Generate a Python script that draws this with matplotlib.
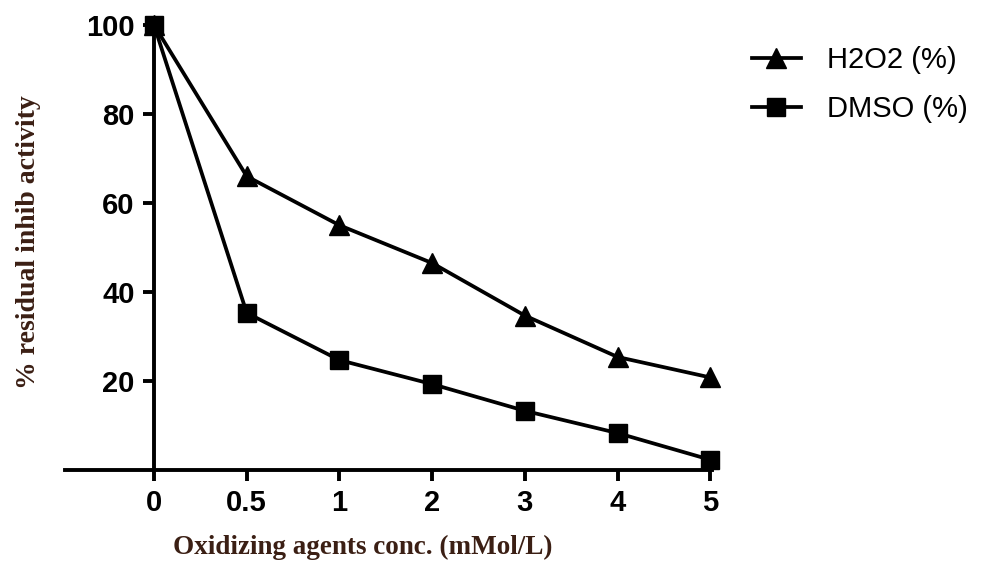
import matplotlib.pyplot as plt

# data
conc_labels = ['0', '0.5', '1', '2', '3', '4', '5']
h2o2 = [100, 66, 55, 46.5, 34.7, 25.4, 20.8]
dmso = [100, 35.3, 24.7, 19.3, 13.3, 8.3, 2.3]
y_ticks = [20, 40, 60, 80, 100]

label_color = '#3b1f14'

fig = plt.figure(figsize=(9.85, 5.68), dpi=100)
ax = fig.add_axes([0.066, 0.1725, 0.657, 0.7835])

x = list(range(len(conc_labels)))
ax.plot(x, h2o2, color='black', lw=2.7, marker='^', ms=14, label='H2O2 (%)', clip_on=False, zorder=3)
ax.plot(x, dmso, color='black', lw=2.7, marker='s', ms=13, label='DMSO (%)', clip_on=False, zorder=3)

ax.set_xlim(-0.96, 6.02)
ax.set_ylim(0, 100)
ax.spines['left'].set_position(('data', 0))
ax.spines['top'].set_visible(False)
ax.spines['right'].set_visible(False)
for s in ['left', 'bottom']:
    ax.spines[s].set_linewidth(2.8)

ax.set_xticks(x)
ax.set_xticklabels(conc_labels)
ax.set_yticks(y_ticks)
ax.tick_params(direction='out', length=8, width=2.8, pad=6)
for lab in ax.get_xticklabels() + ax.get_yticklabels():
    lab.set_fontfamily('Liberation Sans')
    lab.set_fontweight('bold')
    lab.set_fontsize(21)

fig.text(0.368, 0.036, 'Oxidizing agents conc. (mMol/L)', ha='center', va='center',
         fontsize=19.5, fontweight='bold', family='Liberation Serif', color=label_color)
fig.text(0.029, 0.574, '% residual inhib activity', ha='center', va='center', rotation=90,
         fontsize=20, fontweight='bold', family='Liberation Serif', color=label_color)

leg = fig.legend(loc='upper left', bbox_to_anchor=(0.752, 0.94), frameon=False,
                 borderaxespad=0,
                 prop={'family': 'Liberation Sans', 'size': 21},
                 handlelength=1.65, labelspacing=0.72, handletextpad=0.9)

fig.savefig('out.png', dpi=100)
